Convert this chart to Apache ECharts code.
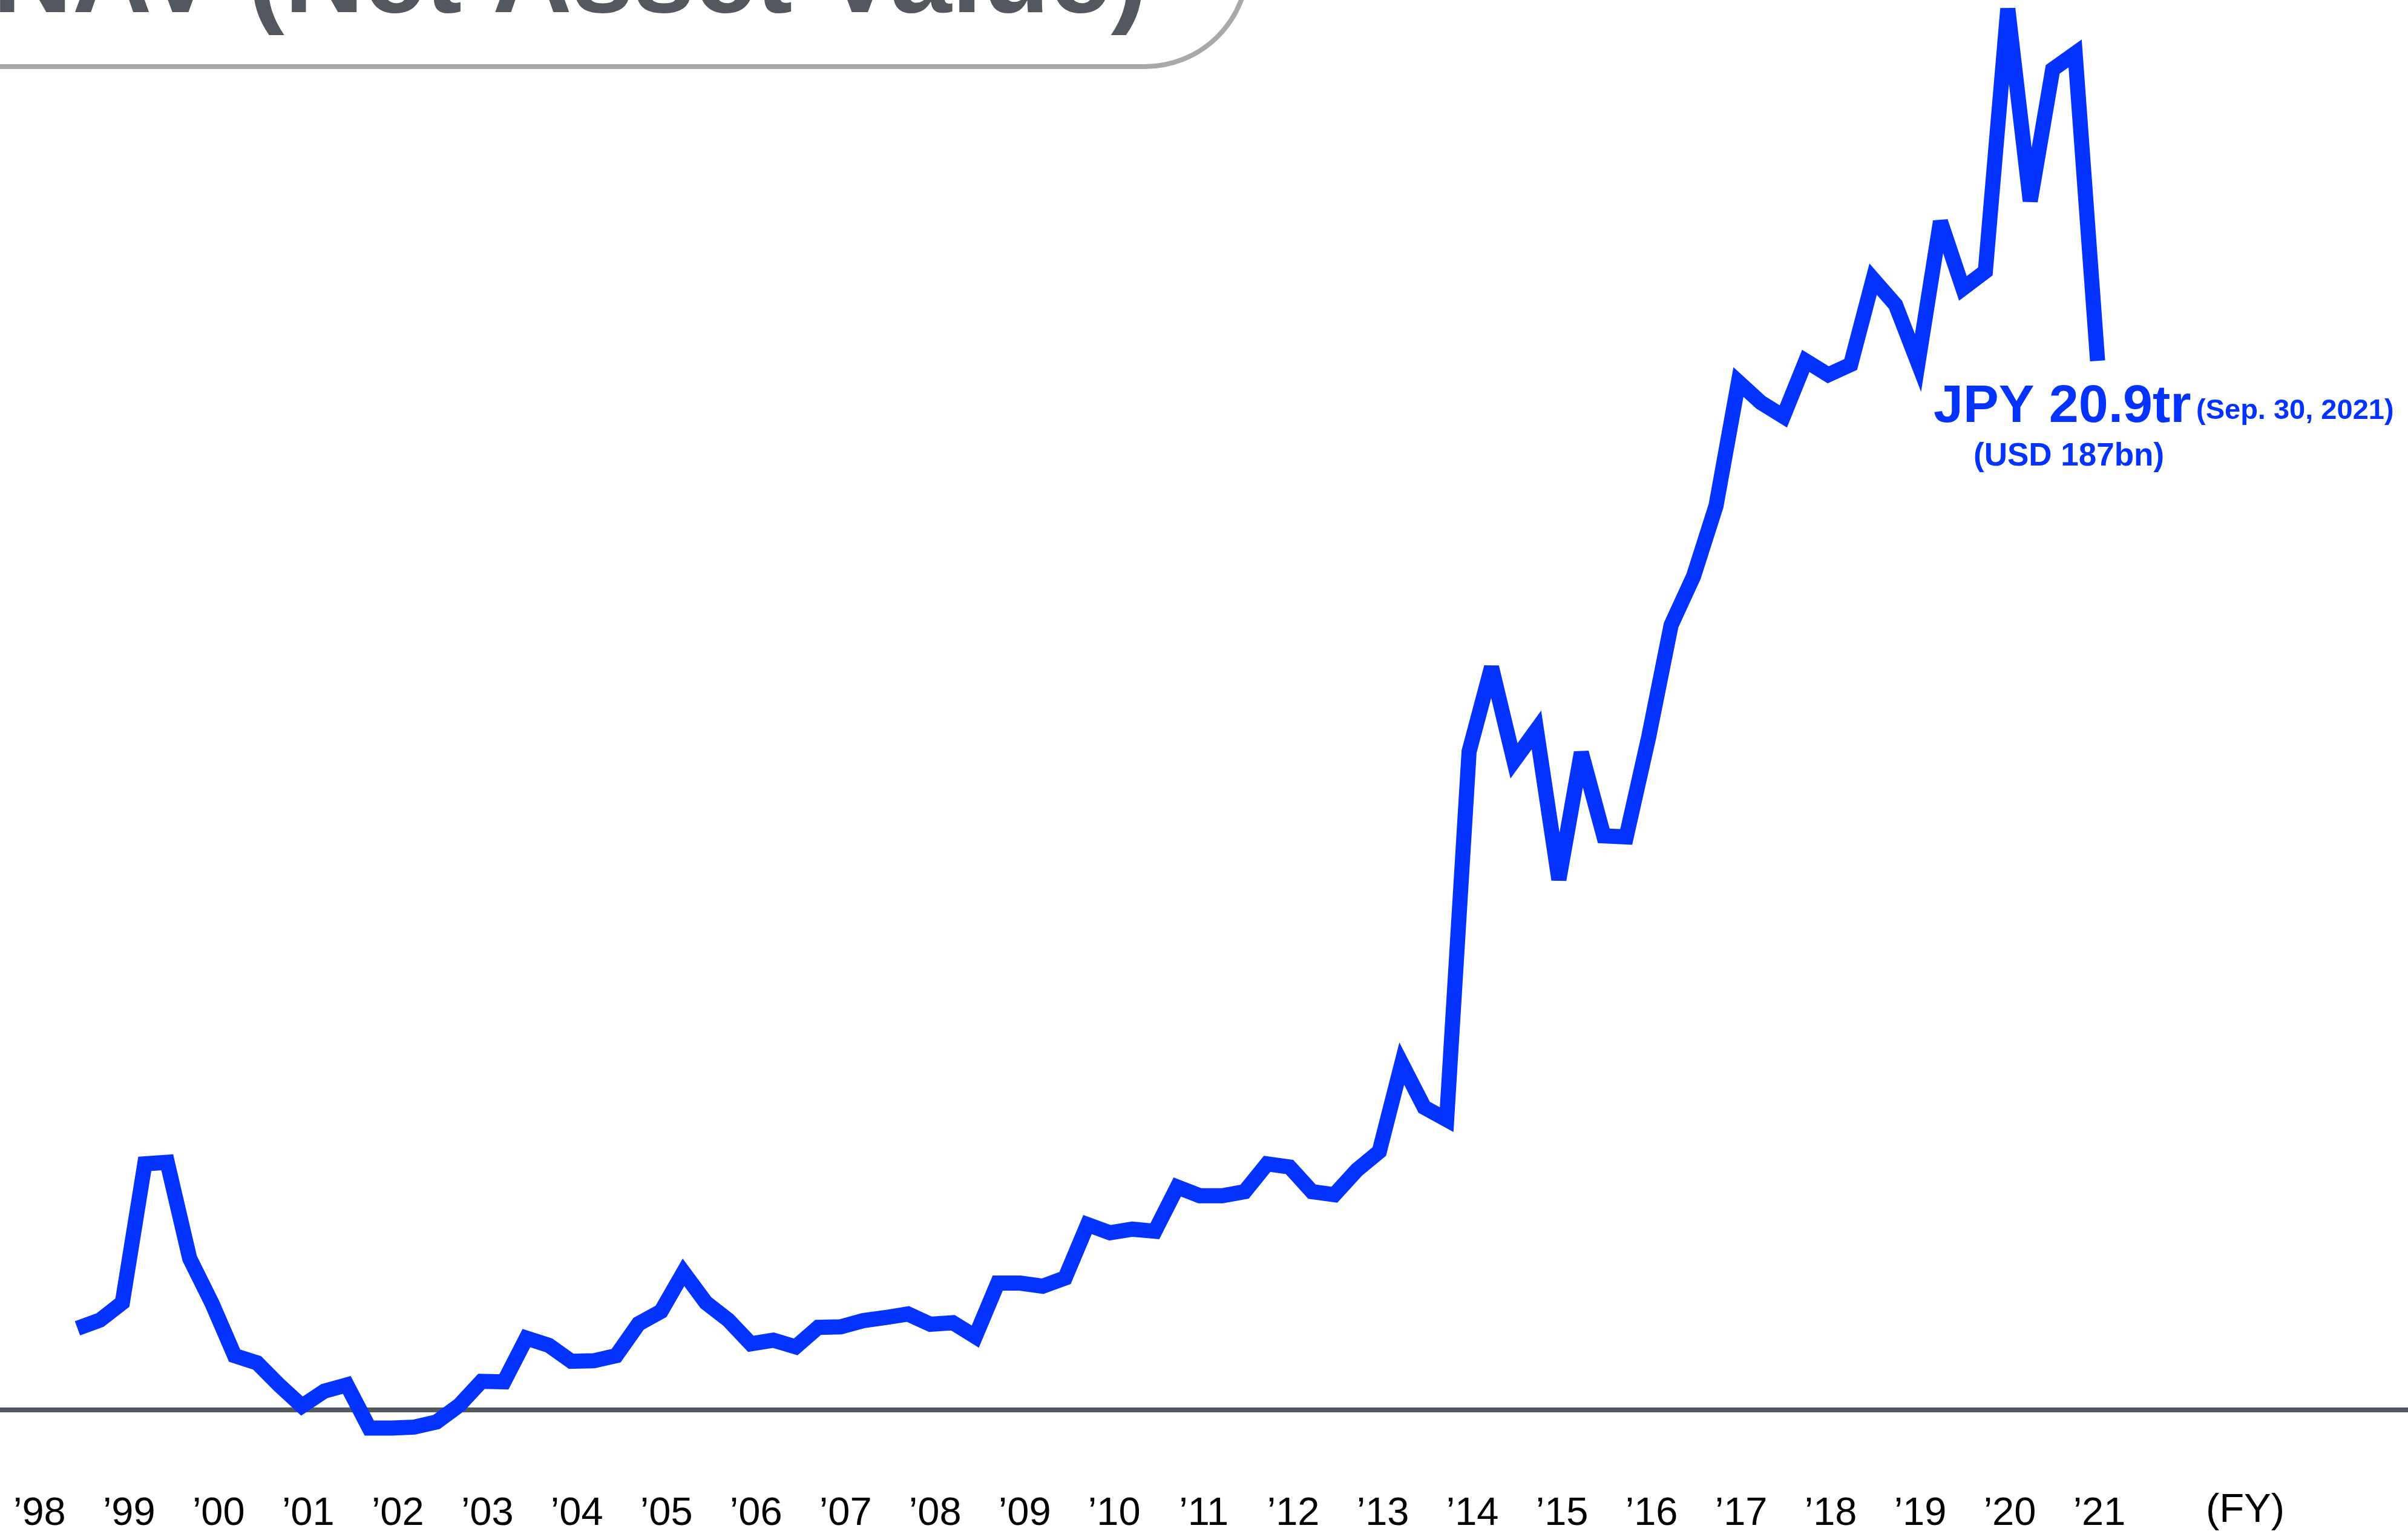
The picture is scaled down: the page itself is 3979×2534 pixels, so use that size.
<!DOCTYPE html>
<html>
<head>
<meta charset="utf-8">
<title>NAV (Net Asset Value)</title>
<script src="https://cdn.jsdelivr.net/npm/echarts@6/dist/echarts.min.js"></script>
<style>
    html, body {
        margin: 0;
        padding: 0;
        background: #ffffff;
    }
    #chart {
        width: 3979px;
        height: 2534px;
    }
</style>
</head>
<body>
<div id="chart"></div>
<script>
// quarter index counted from FY1998 Q1; first value is FY1998 Q4
const firstQuarter = 3;

// NAV in JPY trillion, quarterly, FY1998 Q4 .. FY2021 Q2
const navValues = [
    2.08, 2.24, 2.58, 5.28, 5.31, 3.44, 2.56, 1.55, 1.41, 0.97,
    0.57, 0.86, 0.98, 0.14, 0.14, 0.16, 0.26, 0.58, 1.05, 1.04,
    1.89, 1.75, 1.44, 1.45, 1.55, 2.17, 2.41, 3.17, 2.58, 2.24,
    1.78, 1.85, 1.72, 2.10, 2.11, 2.23, 2.29, 2.36, 2.16, 2.19,
    1.92, 2.96, 2.96, 2.90, 3.06, 4.10, 3.94, 4.01, 3.97, 4.83,
    4.66, 4.66, 4.74, 5.28, 5.22, 4.74, 4.68, 5.16, 5.52, 7.23,
    6.38, 6.14, 13.30, 14.94, 13.12, 13.72, 10.81, 13.28, 11.66, 11.64,
    13.58, 15.76, 16.71, 18.08, 20.49, 20.09, 19.82, 20.90, 20.63, 20.83,
    22.49, 21.99, 20.86, 23.61, 22.31, 22.64, 27.75, 24.01, 26.57, 26.88,
    20.90
];

// fiscal year tick labels
const fyLabels = [
    '98', '99', '00', '01', '02', '03', '04', '05', '06', '07', '08', '09',
    '10', '11', '12', '13', '14', '15', '16', '17', '18', '19', '20', '21'
];

const titleText = 'NAV (Net Asset Value)';
const navText = 'JPY 20.9tr';
const dateText = '(Sep. 30, 2021)';
const usdText = '(USD 187bn)';
const unitText = '(FY)';

const FONT = '"Liberation Sans", Arial, Helvetica, sans-serif';
const BLUE = '#0433ff';
const GREY_TEXT = '#53575e';

// label slots sit close to FY Q2 of each year
const LABEL_T0 = 1.31;
const LABEL_STEP = 3.99;

function init() {
    const chart = echarts.init(document.getElementById('chart'), null, {renderer: 'canvas'});

    const lineData = navValues.map((v, i) => [firstQuarter + i, v]);
    const labelSlots = fyLabels.map((_, i) => LABEL_T0 + i * LABEL_STEP);

    const option = {
        animation: false,
        backgroundColor: '#ffffff',
        grid: {
            left: 0,
            right: 0,
            top: 0,
            bottom: 203,
            containLabel: false
        },
        xAxis: {
            type: 'value',
            min: -0.451,
            max: 106.83,
            splitLine: {show: false},
            axisTick: {show: false},
            axisLine: {
                show: true,
                onZero: false,
                lineStyle: {color: '#54585f', width: 8}
            },
            axisLabel: {
                customValues: labelSlots,
                showMinLabel: true,
                showMaxLabel: true,
                formatter: (value) => {
                    const i = Math.round((value - LABEL_T0) / LABEL_STEP);
                    return '\u2019' + fyLabels[i];
                },
                color: '#000000',
                fontFamily: FONT,
                fontSize: 65,
                verticalAlign: 'middle',
                margin: 173
            }
        },
        yAxis: {
            type: 'value',
            show: false,
            min: 0.5,
            max: 27.92,
            splitLine: {show: false}
        },
        series: [{
            type: 'line',
            data: lineData,
            showSymbol: false,
            symbol: 'none',
            clip: false,
            z: 5,
            lineStyle: {
                color: BLUE,
                width: 25,
                cap: 'butt',
                join: 'miter',
                miterLimit: 4
            }
        }],
        graphic: [
            {
                type: 'rect',
                z: 1,
                shape: {x: -200, y: -300, width: 2262, height: 410, r: 170},
                style: {fill: 'none', stroke: '#a8a9a9', lineWidth: 8}
            },
            {
                type: 'text',
                z: 2,
                x: -12,
                y: -30,
                style: {
                    text: titleText,
                    font: 'bold 182px ' + FONT,
                    fill: GREY_TEXT,
                    align: 'left',
                    verticalAlign: 'middle'
                }
            },
            {
                type: 'text',
                z: 10,
                x: 3195,
                y: 673,
                style: {
                    text: navText,
                    font: 'bold 88px ' + FONT,
                    fill: BLUE,
                    align: 'left',
                    verticalAlign: 'middle'
                }
            },
            {
                type: 'text',
                z: 10,
                x: 3629,
                y: 679,
                style: {
                    text: dateText,
                    font: 'bold 47px ' + FONT,
                    fill: BLUE,
                    align: 'left',
                    verticalAlign: 'middle'
                }
            },
            {
                type: 'text',
                z: 10,
                x: 3261,
                y: 754,
                style: {
                    text: usdText,
                    font: 'bold 53px ' + FONT,
                    fill: BLUE,
                    align: 'left',
                    verticalAlign: 'middle'
                }
            },
            {
                type: 'text',
                z: 10,
                x: 3710,
                y: 2496,
                style: {
                    text: unitText,
                    font: '67px ' + FONT,
                    fill: '#000000',
                    align: 'center',
                    verticalAlign: 'middle'
                }
            }
        ]
    };

    chart.setOption(option);
}

document.addEventListener('DOMContentLoaded', init);
</script>
</body>
</html>
